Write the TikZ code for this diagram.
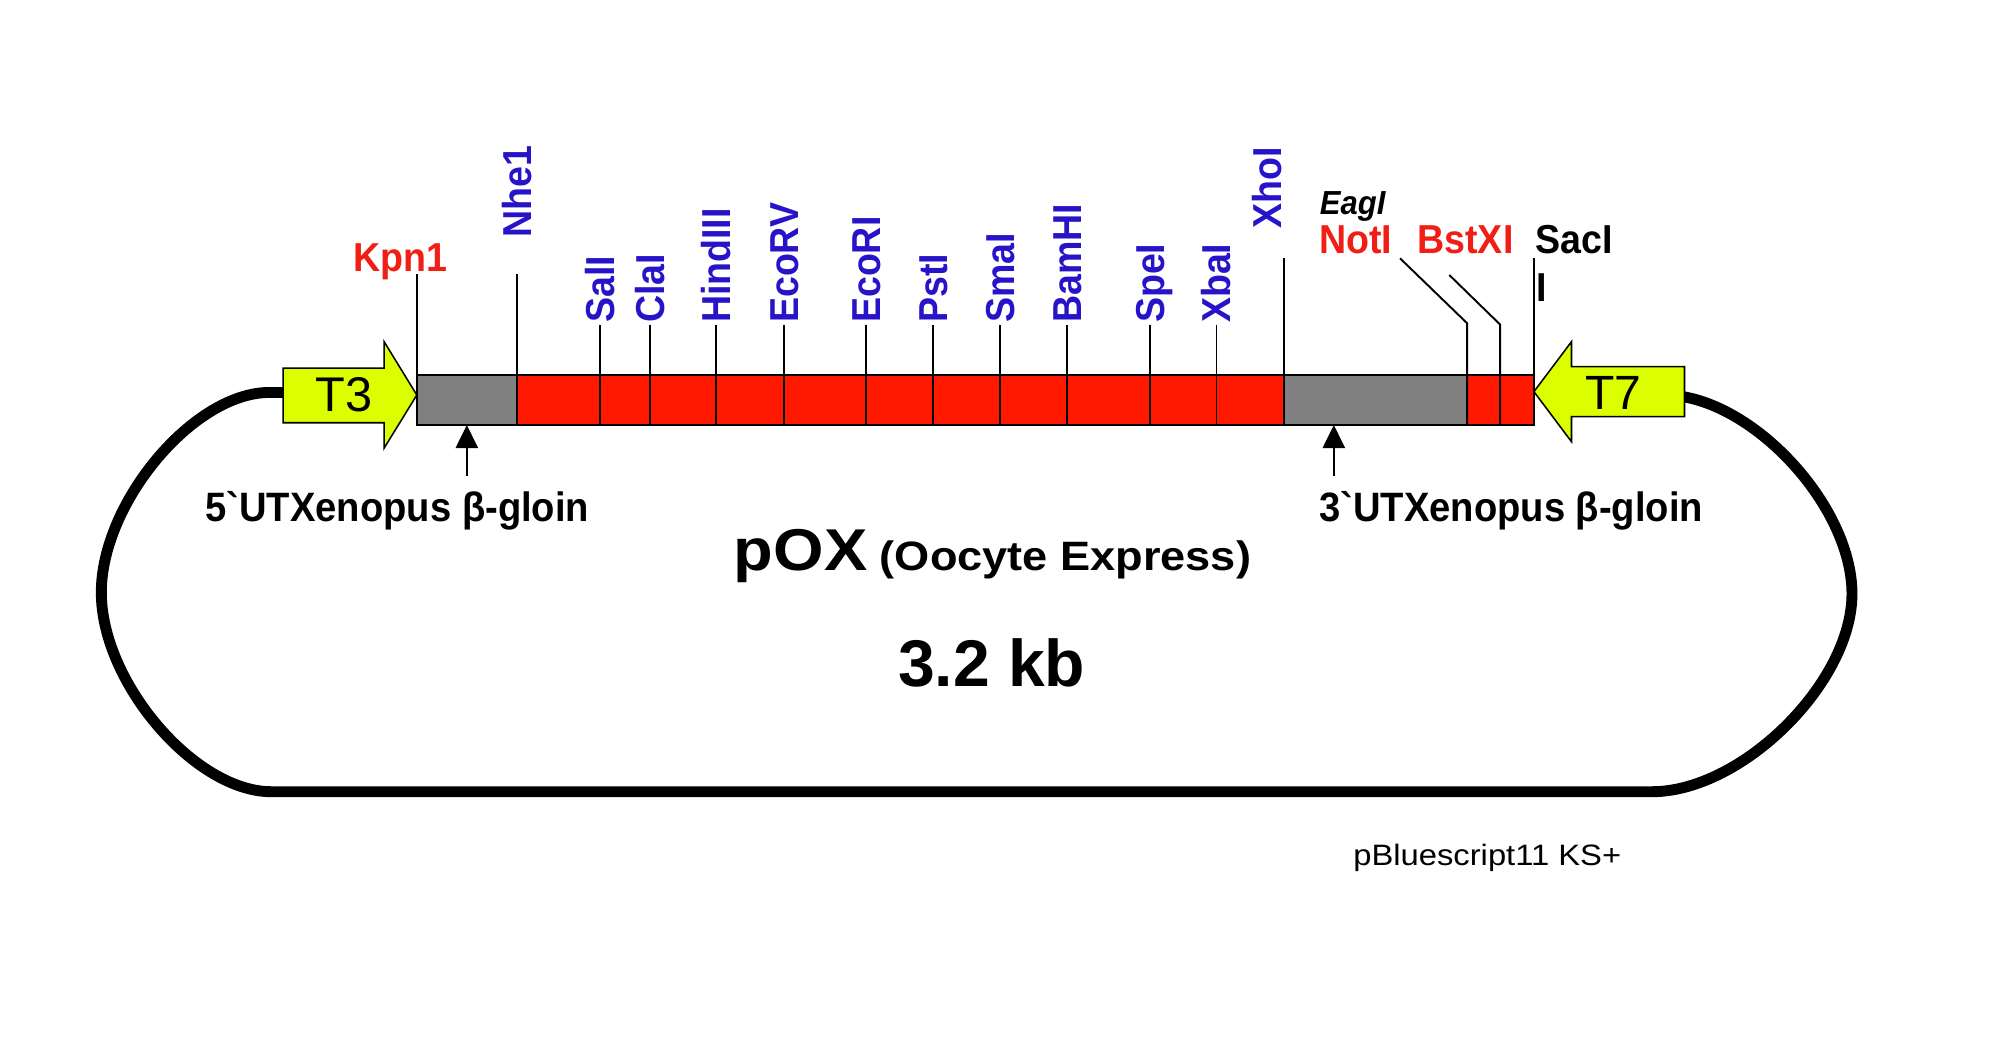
\documentclass[tikz,border=0pt]{standalone}
\usepackage{fontspec}
\setmainfont{Liberation Sans}
\newfontfamily\labfont[FakeStretch=0.93]{Liberation Sans}
\usetikzlibrary{arrows.meta}
\definecolor{siteblue}{RGB}{40,20,200}
\definecolor{sitered}{RGB}{240,30,20}
\definecolor{barred}{RGB}{255,25,0}
\definecolor{bargray}{RGB}{128,128,128}
\definecolor{promo}{RGB}{220,255,0}
\begin{document}
\begin{tikzpicture}[x=1pt,y=-1pt,
  lab/.style={inner sep=0pt, font=\labfont\bfseries\fontsize{31.5}{37.8}\selectfont},
  vlab/.style={lab, text=siteblue, rotate=90, anchor=base west},
  hlab/.style={lab, anchor=base west},
  site/.style={line width=1.5pt},
  segbox/.style={draw=black, line width=1.2pt},
  promoter/.style={draw=black, line width=1.2pt, fill=promo, line join=miter},
  backbone/.style={line width=8.5pt, line cap=butt},
  marker/.style={line width=1.4pt, -{Triangle[length=18pt,width=17.4pt]}},
  utr/.style={inner sep=0pt, anchor=base west, font=\labfont\bfseries\fontsize{32}{38}\selectfont},
  promtext/.style={inner sep=0pt, anchor=base, font=\fontsize{38}{45}\selectfont}]
\useasboundingbox (0,0) rectangle (1568,820);
\fill[white] (0,0) rectangle (1568,820);

% backbone
\coordinate (T3w) at (228,306);
\coordinate (T7e) at (1305,308);
\draw[backbone] (T3w) -- (210,306)
  .. controls (151,306) and (79,392) .. (79,462)
  .. controls (79,532) and (152,617.3) .. (211.6,617.3)
  -- (1288,617.3)
  .. controls (1358,617.3) and (1444,532.4) .. (1444,463)
  .. controls (1444,393.3) and (1364,308) .. (1298,308)
  -- (T7e);

% bar
\draw[segbox, fill=bargray] (325,292.4) rectangle (403,331.4);
\draw[segbox, fill=barred] (403,292.4) rectangle (1000.8,331.4);
\draw[segbox, fill=bargray] (1000.8,292.4) rectangle (1143.9,331.4);
\draw[segbox, fill=barred] (1143.9,292.4) rectangle (1196,331.4);

% promoters
\draw[promoter] (220.8,287) -- (299.5,287) -- (299.5,266.4) -- (325,308)
  -- (299.5,349.4) -- (299.5,329.6) -- (220.8,329.6) -- cycle;
\node[promtext] (T3) at (268,321) {T3};
\draw[promoter] (1313.4,285.9) -- (1225.3,285.9) -- (1225.3,266.4) -- (1196,305.4)
  -- (1225.3,344.4) -- (1225.3,324.9) -- (1313.4,324.9) -- cycle;
\node[promtext, font=\fontsize{37.5}{45}\selectfont] (T7) at (1258,319.2) {T7};

% Kpn1 and Nhe1
\coordinate (Kpn1-b) at (325,331.4);
\coordinate (Kpn1-t) at (325,213.6);
\draw[site] (Kpn1-b) -- (Kpn1-t);
\node[lab, text=sitered, anchor=base] (Kpn1) at (312.5,211.8) {Kpn1};
\coordinate (Nhe1-b) at (403,331.4);
\coordinate (Nhe1-t) at (403,213.6);
\draw[site] (Nhe1-b) -- (Nhe1-t);
\node[vlab] (Nhe1) at (414.3,185.2) {Nhe1};

% short sites
\foreach \n/\x in {SalI/468,ClaI/506.6,HindIII/558.5,EcoRV/611,EcoRI/675.5,PstI/727.6,SmaI/779.7,BamHI/832,SpeI/896.7,XbaI/948.5}{
  \coordinate (\n-b) at (\x,331.4);
  \coordinate (\n-t) at (\x,253.4);
  \draw[site] (\n-b) -- (\n-t);
  \node[vlab] (\n) at ({\x+11.3},252) {\n};
}

% XhoI
\coordinate (XhoI-b) at (1000.8,331.4);
\coordinate (XhoI-t) at (1000.8,201.4);
\draw[site] (XhoI-b) -- (XhoI-t);
\node[vlab] (XhoI) at (999,178.5) {XhoI};

% NotI, BstXI, SacI
\coordinate (NotI-b) at (1143.9,331.4);
\coordinate (NotI-k) at (1143.9,252);
\coordinate (NotI-t) at (1091.6,201.4);
\draw[site] (NotI-b) -- (NotI-k) -- (NotI-t);
\coordinate (BstXI-b) at (1169.6,331.4);
\coordinate (BstXI-k) at (1169.6,253);
\coordinate (BstXI-t) at (1130,214.4);
\draw[site] (BstXI-b) -- (BstXI-k) -- (BstXI-t);
\coordinate (SacI-b) at (1196,331.4);
\coordinate (SacI-t) at (1196,201.4);
\draw[site] (SacI-b) -- (SacI-t);

\node[hlab, font=\labfont\bfseries\itshape\fontsize{26}{31}\selectfont] (EagI) at (1029,167.6) {EagI};
\node[hlab, text=sitered] (NotI) at (1028.5,198) {NotI};
\node[hlab, text=sitered] (BstXI) at (1105,198) {BstXI};
\node[hlab] (SacI) at (1197.3,198) {SacI};
\node[hlab] (SacIb) at (1197.5,235.2) {I};

% UTR markers
\coordinate (m5) at (364,371);
\coordinate (m5t) at (364,331.4);
\draw[marker] (m5) -- (m5t);
\coordinate (m3) at (1040,371);
\coordinate (m3t) at (1040,331.4);
\draw[marker] (m3) -- (m3t);
\node[utr] (utr5) at (160,406.8) {5\symbol{96}UTXenopus β-gloin};
\node[utr] (utr3) at (1028.5,406.8) {3\symbol{96}UTXenopus β-gloin};

% titles
\node[inner sep=0pt, anchor=base west, xscale=1.1, font=\bfseries] (title) at (572,445)
  {{\fontsize{46}{55}\selectfont pOX}{\fontsize{32}{38}\selectfont\ (Oocyte Express)}};
\node[inner sep=0pt, anchor=base, font=\bfseries\fontsize{51.5}{60}\selectfont] (size) at (773.3,535.4) {3.2 kb};
\node[inner sep=0pt, anchor=base west, xscale=1.11, font=\fontsize{23}{28}\selectfont] (vec) at (1055,674.5) {pBluescript11 KS+};
\end{tikzpicture}
\end{document}
